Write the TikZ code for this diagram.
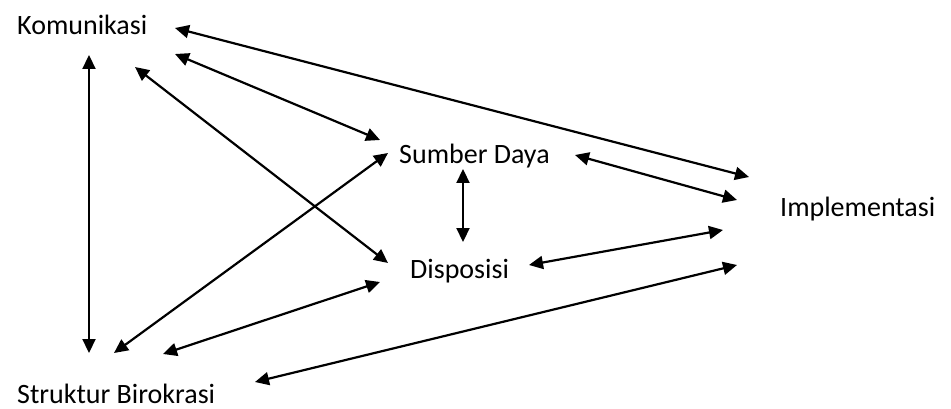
\documentclass[tikz,border=0pt]{standalone}
\usepackage{fontspec}
\setmainfont{Carlito}
\usetikzlibrary{arrows.meta}
\begin{document}
\begin{tikzpicture}[x=1pt,y=-1pt,
  lbl/.style={anchor=base west,inner sep=0pt,font=\fontsize{28}{32}\selectfont},
  link/.style={line width=2.2pt,{Triangle[length=14pt,width=13pt]}-{Triangle[length=14pt,width=13pt]}}]
\useasboundingbox (0,0) rectangle (951,409);
\node[lbl] (kom) at (17,35) {Komunikasi};
\node[lbl] (sd) at (399,164) {Sumber Daya};
\node[lbl] (dis) at (410,278) {Disposisi};
\node[lbl] (sb) at (17,403) {Struktur Birokrasi};
\node[lbl] (imp) at (780,216) {Implementasi};
% endpoints
\coordinate (k1) at (175,28);
\coordinate (k2) at (175,54);
\coordinate (k3) at (135,67);
\coordinate (k4) at (89,55);
\coordinate (sdL1) at (380,140);
\coordinate (sdL2) at (388,153);
\coordinate (sdR) at (575,155);
\coordinate (sdB) at (463,169);
\coordinate (disT) at (463,242);
\coordinate (disL1) at (388,263);
\coordinate (disL2) at (380,282);
\coordinate (disR) at (529,265);
\coordinate (im1) at (749,177);
\coordinate (im2) at (737,200);
\coordinate (im3) at (723,230);
\coordinate (im4) at (737,265);
\coordinate (s1) at (89,353);
\coordinate (s2) at (114,353);
\coordinate (s3) at (163,354);
\coordinate (s4) at (255,382);
\draw[link] (k1) -- (im1);
\draw[link] (k2) -- (sdL1);
\draw[link] (k3) -- (disL1);
\draw[link] (k4) -- (s1);
\draw[link] (s2) -- (sdL2);
\draw[link] (s3) -- (disL2);
\draw[link] (s4) -- (im4);
\draw[link] (sdR) -- (im2);
\draw[link] (sdB) -- (disT);
\draw[link] (disR) -- (im3);
\end{tikzpicture}
\end{document}
